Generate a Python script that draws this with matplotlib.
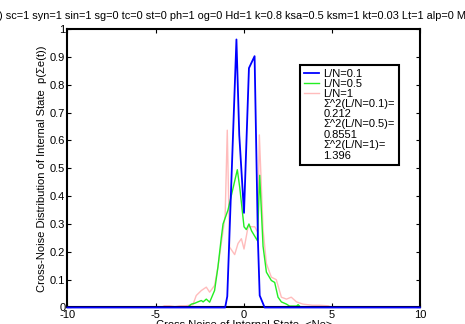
import matplotlib
matplotlib.use('Agg')
import matplotlib.pyplot as plt
from matplotlib.lines import Line2D
from matplotlib.ticker import FixedLocator, FuncFormatter

plt.rcParams['font.family'] = ['Liberation Sans', 'DejaVu Sans']
plt.rcParams['font.size'] = 8

# L/N = 0.1
blue_x = [-10, -1.05, -0.93, -0.41, -0.25, 0.02, 0.30, 0.62, 0.81, 0.91, 1.19, 10]
blue_y = [0, 0, 0.04, 0.963, 0.62, 0.34, 0.86, 0.903, 0.24, 0.043, 0, 0]

# L/N = 0.5
green_x = [-10, -3.2, -2.97, -2.78, -2.6, -2.4, -2.3, -2.12, -1.93, -1.65, -1.46, -1.27,
           -1.17, -0.89, -0.36, -0.22, 0.02, 0.15, 0.30, 0.45, 0.78, 0.91, 1.1, 1.29,
           1.57, 1.76, 1.95, 2.14, 2.43, 2.6, 3.0, 3.09, 3.25, 10]
green_y = [0, 0, 0.012, 0.015, 0.02, 0.025, 0.02, 0.03, 0.019, 0.061, 0.145, 0.25,
           0.30, 0.35, 0.495, 0.43, 0.29, 0.28, 0.30, 0.275, 0.24, 0.475, 0.22, 0.127,
           0.097, 0.09, 0.037, 0.02, 0.012, 0.005, 0.005, 0.01, 0, 0]

# L/N = 1
pink_x = [-10, -4.7, -4.5, -4.2, -3.9, -3.6, -3.3, -2.88, -2.69, -2.4, -2.12, -1.93,
          -1.65, -1.46, -1.27, -1.05, -0.93, -0.8, -0.51, -0.32, -0.13, 0.02, 0.25,
          0.44, 0.63, 0.8, 0.89, 1.1, 1.29, 1.57, 1.85, 2.14, 2.43, 2.7, 3.0, 3.37,
          3.9, 4.3, 4.8, 5.0, 10]
pink_y = [0, 0, 0.006, 0.006, 0.003, 0.006, 0.006, 0.01, 0.043, 0.061, 0.073, 0.055,
          0.079, 0.145, 0.23, 0.33, 0.637, 0.217, 0.19, 0.23, 0.247, 0.21, 0.29,
          0.29, 0.29, 0.27, 0.62, 0.28, 0.158, 0.109, 0.1, 0.037, 0.03, 0.037, 0.02,
          0.012, 0.008, 0.008, 0.006, 0, 0]

labels = ['L/N=0.1', 'L/N=0.5', 'L/N=1']
sigma_labels = ['\u03a3^2(L/N=0.1)=\n0.212', '\u03a3^2(L/N=0.5)=\n0.8551', '\u03a3^2(L/N=1)=\n1.396']
x_ticks = [-10, -5, 0, 5, 10]
y_ticks = [0, 0.1, 0.2, 0.3, 0.4, 0.5, 0.6, 0.7, 0.8, 0.9, 1]

title = (') sc=1 syn=1 sin=1 sg=0 tc=0 st=0 ph=1 og=0 Hd=1 k=0.8 ksa=0.5 ksm=1 '
         'kt=0.03 Lt=1 alp=0 Mt=1')

fig = plt.figure(figsize=(4.65, 3.24), dpi=100)
ax = fig.add_axes([0.145, 0.051, 0.758, 0.859])

l1, = ax.plot(blue_x, blue_y, color='#0000ff', lw=1.3, zorder=3, clip_on=False)
l2, = ax.plot(green_x, green_y, color='#22ee22', lw=1.0, zorder=2.2)
l3, = ax.plot(pink_x, pink_y, color='#ffbcbc', lw=1.0, zorder=2.1)

ax.set_xlim(-10, 10)
ax.set_ylim(0, 1)
ax.xaxis.set_major_locator(FixedLocator(x_ticks))
ax.yaxis.set_major_locator(FixedLocator(y_ticks))
fmt = FuncFormatter(lambda v, p: ('%g' % v))
ax.xaxis.set_major_formatter(fmt)
ax.yaxis.set_major_formatter(fmt)
ax.tick_params(direction='in', length=3, width=0.8, top=True, right=True, pad=1.5)
for s in ax.spines.values():
    s.set_linewidth(1.5)

ax.set_xlabel('Cross Noise of Internal State  <Ne>', labelpad=0)
ax.set_ylabel('Cross-Noise Distribution of Internal State  p(\u03a3e(t))', labelpad=2)

fig.text(-0.002, 0.952, title, ha='left', va='center', fontsize=7.9)

blank = [Line2D([], [], color='none') for _ in sigma_labels]
leg = ax.legend([l1, l2, l3] + blank, labels + sigma_labels,
                loc='upper left', bbox_to_anchor=(0.66, 0.872), borderaxespad=0,
                fancybox=False, framealpha=1, edgecolor='black',
                labelspacing=0.0, handlelength=1.4, handletextpad=0.35,
                borderpad=0.35)
leg.get_frame().set_linewidth(1.5)
for t in leg.get_texts():
    t.set_linespacing(1.1)

fig.savefig('out.png', dpi=100)
plt.close(fig)
